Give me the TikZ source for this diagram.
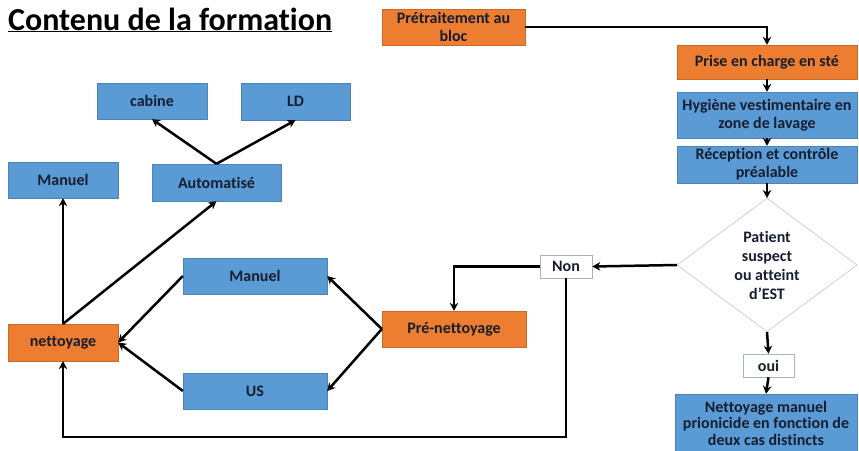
\documentclass[tikz,border=0pt]{standalone}
\usepackage{fontspec}
\setmainfont{Carlito}[Ligatures=NoCommon]
\usepackage{tikz}
\usetikzlibrary{positioning, shapes.geometric, arrows.meta}
\usepackage{xcolor}
\definecolor{orangebox}{RGB}{237,125,49}
\definecolor{bluebox}{RGB}{91,155,213}
\definecolor{inkdark}{RGB}{22,30,48}
\definecolor{greyline}{RGB}{165,180,195}

\begin{document}
\begin{tikzpicture}[x=1pt, y=-1pt,
    box/.style={inner sep=1pt, align=center, font=\fontsize{16}{18}\selectfont\bfseries, text=inkdark},
    orange/.style={box, fill=orangebox, draw=orangebox!85!black, line width=0.3pt},
    blue/.style={box, fill=bluebox, draw=bluebox!85!black, line width=0.3pt},
    label/.style={box, fill=white, draw=greyline, line width=0.6pt},
    arr/.style={line width=2.5pt, -{Stealth[length=8pt, width=8.5pt]}}]
        \useasboundingbox (0,0) rectangle (859,450);
        % title
        \node[anchor=base west, inner sep=0pt, font=\fontsize{32}{34}\selectfont\bfseries] (title) at (8,30) {\underline{Contenu de la formation}};
        % right column
        \node[orange, minimum width=143pt, minimum height=36pt] (pretrait) at (453.5,27) {Prétraitement au\\bloc};
        \node[orange, minimum width=180pt, minimum height=34pt] (prise) at (767,62) {Prise en charge en sté};
        \node[blue, minimum width=180pt, minimum height=46pt] (hyg) at (767,115) {Hygiène vestimentaire en\\zone de lavage};
        \node[blue, minimum width=180pt, minimum height=37pt] (recep) at (767,164.5) {Réception et contrôle\\préalable};
        \node[draw=greyline, fill=white, diamond, minimum width=180pt, minimum height=130pt, inner sep=0pt, align=center, font=\fontsize{16}{19}\selectfont\bfseries, text=inkdark] (patient) at (767,265) {Patient\\suspect\\ou atteint\\d’EST};
        \node[label, minimum width=52pt, minimum height=23pt] (non) at (566,266.5) {Non};
        \node[label, minimum width=51pt, minimum height=23pt] (oui) at (768.5,365.5) {oui};
        \node[blue, minimum width=182pt, minimum height=58pt, font=\fontsize{16}{16.5}\selectfont\bfseries] (netman) at (766,423) {Nettoyage manuel\\prionicide en fonction de\\deux cas distincts};
        % middle
        \node[orange, minimum width=144pt, minimum height=36pt] (prenet) at (454,329) {Pré-nettoyage};
        \node[blue, minimum width=144pt, minimum height=36pt] (manuel2) at (255,276) {Manuel};
        \node[blue, minimum width=144pt, minimum height=36pt] (us) at (255,391) {US};
        % left
        \node[orange, minimum width=110pt, minimum height=37pt] (nett) at (63,342.5) {nettoyage};
        \node[blue, minimum width=110pt, minimum height=36pt] (manuel1) at (63,180) {Manuel};
        \node[blue, minimum width=129pt, minimum height=37pt] (auto) at (216.5,182.5) {Automatisé};
        \node[blue, minimum width=110pt, minimum height=36pt] (cabine) at (152,101) {cabine};
        \node[blue, minimum width=109pt, minimum height=37pt] (ld) at (295.5,101.5) {LD};
        \coordinate (retour) at (63,437);

        % Now the connectors
        \draw[arr] (pretrait.east) -| (prise.north);
        \draw[arr] (prise) -- (hyg);
        \draw[arr] (hyg) -- (recep);
        \draw[arr] (recep) -- (patient.north);
        \draw[arr] (patient.west) -- (non.east);
        \draw[arr] (non.west) -| (prenet.north);
        \draw[arr] (non.south) |- (retour) -- (nett.south);
        \draw[arr] (patient.south) -- (oui.north);
        \draw[arr] (oui.south) -- (netman.north);
        \draw[arr] (prenet.west) -- (manuel2.east);
        \draw[arr] (prenet.west) -- (us.east);
        \draw[arr] (manuel2.west) -- (nett.east);
        \draw[arr] (us.west) -- (nett.east);
        \draw[arr] (nett.north) -- (manuel1.south);
        \draw[arr] (nett.north) -- (auto.south);
        \draw[arr] (auto.north) -- (cabine.south);
        \draw[arr] (auto.north) -- (ld.south);
    \end{tikzpicture}
\end{document}
